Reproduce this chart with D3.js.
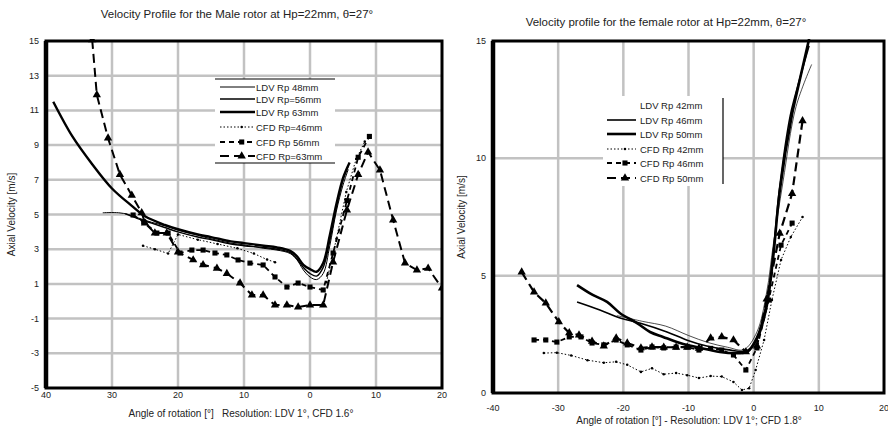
<!DOCTYPE html>
<html>
<head>
<meta charset="utf-8">
<script src="https://cdn.jsdelivr.net/npm/d3@7"></script>
<style>
  body { margin: 0; background: #fff; }
  svg text { font-family: "Liberation Sans", Arial, sans-serif; fill: #222; }
</style>
</head>
<body>
<svg id="chart" width="888" height="436"></svg>
<script>
// ---- male rotor (left) : [angle, axial velocity]
const maleLdv48 = [[31.4,5.1],[29,5.1],[27.5,5.0],[26,4.8],[24,4.55],[22,4.35],[20,4.1],[17,3.8],[15,3.6],[12,3.35],[10,3.25],[7,3.05],[5,2.95],[3,2.75],[2,2.4],[1,1.8],[0,1.4],[-1,1.25],[-2,1.6],[-3,3.2],[-4,5.2],[-5,6.7],[-5.8,7.6]];
const maleLdv56 = [[28,5.05],[26,4.75],[24,4.5],[22,4.25],[20,4.0],[17,3.7],[15,3.55],[12,3.3],[10,3.2],[7,3.1],[5,3.0],[3,2.8],[2,2.45],[1,1.95],[0,1.6],[-1,1.45],[-2,1.95],[-3,3.5],[-4,5.4],[-5,7.0],[-5.8,7.8]];
const maleLdv63 = [[38.9,11.5],[36,9.5],[33,7.9],[30,6.5],[27,5.5],[25,4.9],[22,4.4],[20,4.15],[17,3.85],[15,3.7],[12,3.45],[10,3.35],[7,3.2],[5,3.1],[3,2.9],[2,2.6],[1,2.1],[0,1.85],[-1,1.7],[-2,2.2],[-3,3.8],[-4,5.6],[-5,7.1],[-6,8.0]];
const maleCfd46 = [[25.3,3.2],[23.5,3.0],[21.5,2.75],[20,3.85],[17,3.55],[14,3.3],[11,3.05],[8.5,2.75],[6.5,2.4],[5.3,2.25],[null,null],[-2.5,1.1],[-4,3.6],[-5.5,6.3],[-7,8.2],[-8.3,9.2]];
const maleCfd56 = [[26.8,4.97],[25.2,4.57],[23.2,3.93],[21.5,3.93],[19.7,2.78],[17.9,2.95],[16.2,2.95],[14.4,2.78],[12.6,2.67],[10.9,2.38],[9.1,2.2],[7.1,2.09],[5.3,1.4],[3.5,0.82],[1.8,1.05],[0,0.82],[-2,0.65],[-3.5,2.78],[-5.6,5.8],[-7.3,8.3],[-9,9.5]];
const maleCfd63 = [[33,15.06],[32.3,11.9],[30.6,9.4],[28.8,7.3],[27,6.1],[25.5,5.1],[25,4.5],[23.5,3.93],[21.7,3.93],[20,2.84],[17.7,2.38],[16.2,2.1],[14.1,1.9],[12.6,1.6],[10.6,1.05],[8.8,0.36],[7.1,0.36],[5.3,-0.22],[3.5,-0.22],[1.8,-0.33],[0,-0.22],[-2,-0.22],[-3.5,2.26],[-5.6,5.26],[-7.3,7.3],[-8.8,8.6],[-10.6,7.56],[-12.6,4.68],[-14.4,2.2],[-16.2,1.8],[-17.9,1.9],[-20,0.76]];

// ---- female rotor (right)
const femLdv42 = [[-21,3.3],[-17,3.05],[-13.5,2.85],[-10,2.45],[-7,2.15],[-4,1.95],[-1.5,1.85],[0.5,2.6],[2,4.3],[3,6.3],[4.5,9.0],[6.5,12.2],[8.9,14.0]];
const femLdv46 = [[-27.1,3.88],[-23.6,3.54],[-20.5,3.2],[-17.5,2.98],[-13.3,2.6],[-10.2,2.25],[-7.2,2.0],[-4.1,1.85],[-1,1.8],[0.5,2.4],[2,3.9],[3,6.0],[4,8.8],[5.6,11.8],[6.3,12.6],[8.5,14.8]];
const femLdv50 = [[-27.1,4.6],[-24.7,4.18],[-22.5,3.88],[-20.5,3.4],[-17.9,2.98],[-15.9,2.6],[-13.9,2.39],[-11.3,2.13],[-8.2,1.92],[-5.2,1.75],[-2.6,1.7],[-1,1.75],[0.5,2.3],[2,3.7],[3,5.8],[4,8.6],[5.9,11.9],[6.3,12.4],[8.6,15.2]];
const femCfd42 = [[-32.2,1.7],[-30.2,1.72],[-28,1.6],[-25.5,1.4],[-23,1.29],[-21.1,1.33],[-19.4,1.2],[-17.3,0.9],[-15.6,1.05],[-13.8,0.8],[-11.9,0.85],[-10.2,0.76],[-8.4,0.64],[-6.6,0.72],[-4.9,0.7],[-3.1,0.47],[-1.8,0.13],[-0.7,0.2],[0.3,0.98],[1.6,2.26],[2.8,3.96],[4.2,5.67],[5.7,6.65],[7.5,7.5]];
const femCfd46 = [[-33.7,2.26],[-31.9,2.26],[-30.2,2.17],[-28.3,2.39],[-26.5,2.39],[-24.8,2.13],[-23,2.05],[-21.1,2.26],[-19.4,2.05],[-17.3,1.83],[-15.6,1.96],[-13.8,1.92],[-11.9,1.96],[-10.2,1.96],[-8.4,1.83],[-6.6,1.9],[-4.9,1.83],[-3.1,1.62],[-1.2,0.98],[0.5,1.92],[2.3,3.96],[4.2,6.3],[5.9,7.24]];
const femCfd50 = [[-35.6,5.15],[-33.7,4.3],[-31.9,3.83],[-29.9,3.03],[-28.3,2.56],[-26.8,2.47],[-24.8,2.2],[-23,2.0],[-21.1,2.34],[-19.4,2.13],[-17.3,1.92],[-15.6,1.96],[-13.8,1.95],[-11.9,1.95],[-10.2,1.95],[-8.4,1.9],[-6.6,2.34],[-4.9,2.39],[-3.1,2.26],[-1.2,1.75],[0.5,2.0],[2,4.0],[4,6.8],[5.9,8.5],[7.5,11.6]];

const maleXTicks = [40, 30, 20, 10, 0, -10, -20];
const maleYTicks = [15, 13, 11, 9, 7, 5, 3, 1, -1, -3, -5];
const femXTicks = [-40, -30, -20, -10, 0, 10, 20];
const femYTicks = [0, 5, 10, 15];

const maleNames = ["LDV Rp 48mm", "LDV Rp=56mm", "LDV Rp 63mm", "CFD Rp=46mm", "CFD Rp 56mm", "CFD Rp=63mm"];
const femNames = ["LDV Rp 42mm", "LDV Rp 46mm", "LDV Rp 50mm", "CFD Rp 42mm", "CFD Rp 46mm", "CFD Rp 50mm"];

const svg = d3.select("#chart");

function markSym(m) {
  return m === "square" ? d3.symbolSquare : m === "triangle" ? d3.symbolTriangle : d3.symbolCircle;
}
function markSize(m) {
  return m === "square" ? 26 : m === "triangle" ? 30 : 5;
}

function drawPanel(o) {
  const x = d3.scaleLinear().domain(o.xDomain).range([o.left, o.right]);
  const y = d3.scaleLinear().domain(o.yDomain).range([o.bottom, o.top]);
  const g = svg.append("g");

  // gridlines
  const gx = o.xTicks.slice(1, -1);
  const gy = o.yTicks.filter(t => t !== o.yDomain[0] && t !== o.yDomain[1]);
  g.append("g").selectAll("line").data(gx).join("line")
    .attr("x1", d => x(d)).attr("x2", d => x(d)).attr("y1", o.top).attr("y2", o.bottom)
    .style("stroke", "#c2c2c2").style("stroke-width", "2.5px");
  g.append("g").selectAll("line").data(gy).join("line")
    .attr("x1", o.left).attr("x2", o.right).attr("y1", d => y(d)).attr("y2", d => y(d))
    .style("stroke", "#c2c2c2").style("stroke-width", "2.5px");

  // white box behind the legend
  g.append("rect").attr("x", o.legBox[0]).attr("y", o.legBox[1]).attr("width", o.legBox[2]).attr("height", o.legBox[3])
    .attr("fill", "#fff");

  const defs = g.append("defs");
  defs.append("clipPath").attr("id", o.id).append("rect")
    .attr("x", o.left).attr("y", o.top - 2).attr("width", o.right - o.left).attr("height", o.bottom - o.top + 2);

  // tick labels
  g.append("g").selectAll("text").data(o.xTicks).join("text")
    .attr("x", d => x(d)).attr("y", o.bottom + o.xLabOff).attr("text-anchor", "middle")
    .attr("font-size", 9).text(o.xFmt);
  g.append("g").selectAll("text").data(o.yTicks).join("text")
    .attr("x", o.left - 7).attr("y", d => y(d) + 3).attr("text-anchor", "end")
    .attr("font-size", 9).text(d => d);

  // series
  const line = d3.line().defined(d => d[0] != null).x(d => x(d[0])).y(d => y(d[1]));
  const sg = g.append("g").attr("clip-path", `url(#${o.id})`);
  o.series.forEach((s, i) => {
    const st = o.styles[i];
    sg.append("path")
      .attr("d", line.curve(st.curve ? d3.curveCatmullRom : d3.curveLinear)(s))
      .attr("fill", "none").attr("stroke", "#000").attr("stroke-width", st.w)
      .attr("stroke-dasharray", st.dash);
    if (st.mark) {
      sg.append("g").selectAll("path").data(s.filter(d => d[0] != null)).join("path")
        .attr("transform", d => `translate(${x(d[0])},${y(d[1])})`)
        .attr("d", d3.symbol().type(markSym(st.mark)).size(markSize(st.mark))).attr("fill", "#000");
    }
  });

  // frame
  g.append("rect").attr("x", o.left).attr("y", o.top).attr("width", o.right - o.left).attr("height", o.bottom - o.top)
    .attr("fill", "none").attr("stroke", "#000").attr("stroke-width", 3);
  g.append("line").attr("x1", o.left).attr("x2", o.left).attr("y1", o.top).attr("y2", o.bottom)
    .attr("stroke", "#000").attr("stroke-width", 4.5);

  // titles
  svg.append("text").attr("x", o.titleX).attr("y", o.titleY).attr("text-anchor", "middle")
    .attr("font-size", 11.5).text(o.title);
  svg.append("text").attr("x", o.xTitleX).attr("y", o.xTitleY).attr("text-anchor", "middle")
    .attr("font-size", 10).attr("xml:space", "preserve").text(o.xTitle);
  svg.append("text").attr("transform", `translate(${o.yTitleX},${(o.top + o.bottom) / 2}) rotate(-90)`)
    .attr("text-anchor", "middle").attr("font-size", 10).text("Axial Velocity [m/s]");

  // legend
  const lg = svg.append("g");
  o.names.forEach((n, i) => {
    const st = o.styles[i];
    const yy = o.legRows[i];
    if (!o.legSkip || !o.legSkip.includes(i)) {
      lg.append("line").attr("x1", o.legX0).attr("x2", o.legX1).attr("y1", yy).attr("y2", yy)
        .attr("stroke", "#000").attr("stroke-width", st.w).attr("stroke-dasharray", st.dash);
      if (st.mark) {
        lg.append("path").attr("transform", `translate(${o.legX0 + (o.legX1 - o.legX0) * 0.62},${yy})`)
          .attr("d", d3.symbol().type(markSym(st.mark)).size(markSize(st.mark))).attr("fill", "#000");
      }
    }
    lg.append("text").attr("x", o.legText).attr("y", yy + 3.5).attr("font-size", 9.5).text(n);
  });
  return lg;
}

const maleStyles = [
  { w: 1, dash: null, mark: null, curve: true },
  { w: 1.4, dash: null, mark: null, curve: true },
  { w: 2.4, dash: null, mark: null, curve: true },
  { w: 1, dash: "1.5,2", mark: "dot" },
  { w: 1.8, dash: "5,4", mark: "square" },
  { w: 2, dash: "9,5", mark: "triangle" }
];
const maleLeg = drawPanel({
  id: "clipMale", left: 46, right: 442, top: 41, bottom: 388,
  xDomain: [40, -20], yDomain: [-5, 15], xTicks: maleXTicks, yTicks: maleYTicks,
  xFmt: d => Math.abs(d), xLabOff: 10,
  series: [maleLdv48, maleLdv56, maleLdv63, maleCfd46, maleCfd56, maleCfd63], styles: maleStyles,
  title: "Velocity Profile for the Male rotor at Hp=22mm, θ=27°", titleX: 237, titleY: 18,
  xTitle: "Angle of rotation [°]   Resolution: LDV 1°, CFD 1.6°", xTitleX: 241, xTitleY: 417, yTitleX: 15,
  names: maleNames, legRows: [87, 99, 112, 127, 142, 156], legX0: 220, legX1: 255, legText: 256,
  legBox: [215, 79, 120, 84]
});
maleLeg.append("line").attr("x1", 215).attr("x2", 335).attr("y1", 79).attr("y2", 79).attr("stroke", "#000").attr("stroke-width", 1.2);
maleLeg.append("line").attr("x1", 215).attr("x2", 335).attr("y1", 163).attr("y2", 163).attr("stroke", "#000").attr("stroke-width", 1.2);

const femStyles = [
  { w: 0.7, dash: null, mark: null, curve: true },
  { w: 1.6, dash: null, mark: null, curve: true },
  { w: 2.6, dash: null, mark: null, curve: true },
  { w: 1, dash: "1.5,2", mark: "dot" },
  { w: 1.8, dash: "5,4", mark: "square" },
  { w: 2.2, dash: "9,5", mark: "triangle" }
];
const femLeg = drawPanel({
  id: "clipFem", left: 493, right: 884, top: 41, bottom: 393,
  xDomain: [-40, 20], yDomain: [0, 15], xTicks: femXTicks, yTicks: femYTicks,
  xFmt: d => d, xLabOff: 18,
  series: [femLdv42, femLdv46, femLdv50, femCfd42, femCfd46, femCfd50], styles: femStyles,
  title: "Velocity profile for the female rotor at Hp=22mm, θ=27°", titleX: 666, titleY: 26,
  xTitle: "Angle of rotation [°] - Resolution: LDV 1°; CFD 1.8°", xTitleX: 689, xTitleY: 424, yTitleX: 465,
  names: femNames, legRows: [105, 120, 134, 149, 163, 178], legX0: 607, legX1: 636, legText: 640, legSkip: [0],
  legBox: [603, 96, 120, 90]
});
femLeg.append("line").attr("x1", 723).attr("x2", 723).attr("y1", 98).attr("y2", 184).attr("stroke", "#000").attr("stroke-width", 1.2);
</script>
</body>
</html>
